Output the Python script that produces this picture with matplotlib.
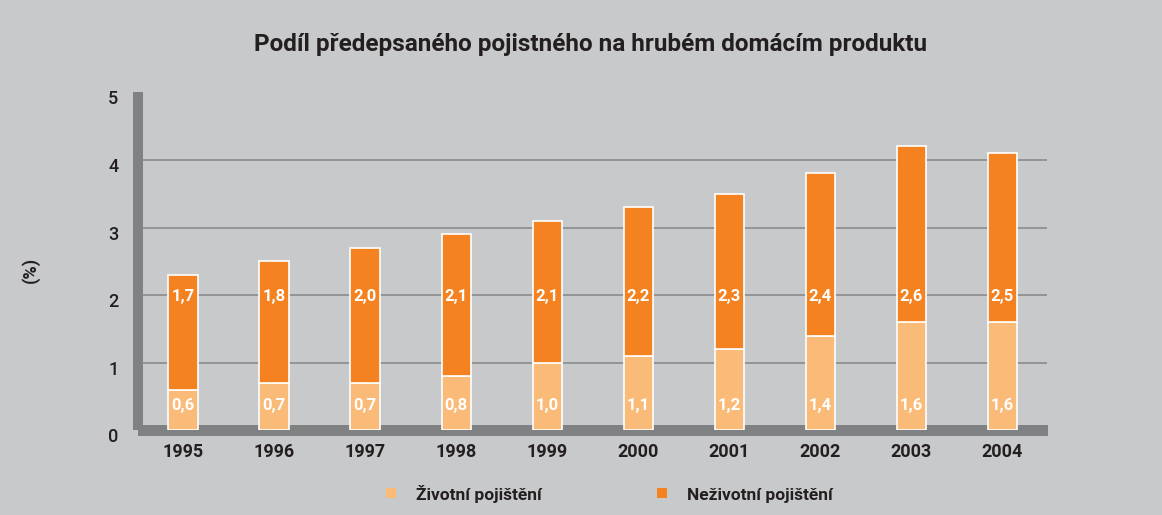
import matplotlib
matplotlib.use("Agg")
import matplotlib.pyplot as plt
import matplotlib.transforms as mtransforms
from matplotlib.patches import Rectangle
import numpy as np

plt.rcParams['font.family'] = ['Roboto', 'DejaVu Sans']

years = ["1995", "1996", "1997", "1998", "1999", "2000", "2001", "2002", "2003", "2004"]
life = [0.6, 0.7, 0.7, 0.8, 1.0, 1.1, 1.2, 1.4, 1.6, 1.6]
nonlife = [1.7, 1.8, 2.0, 2.1, 2.1, 2.2, 2.3, 2.4, 2.6, 2.5]
series_names = ["Životní pojištění", "Neživotní pojištění"]
title = "Podíl předepsaného pojistného na hrubém domácím produktu"
ylabel = "(%)"
yticks = [0, 1, 2, 3, 4, 5]

BG = "#c8c9cb"
C_LIFE = "#fbbb78"
C_NON = "#f58220"
GRID = "#8a8b8d"
AXBAR = "#808183"
TXT = "#231f20"

W, H = 1162, 515
fig = plt.figure(figsize=(W / 100, H / 100), dpi=100, facecolor=BG)
ax = fig.add_axes([142 / W, 1 - 430.3 / H, 905 / W, (430.3 - 92.3) / H])
ax.set_facecolor("none")

x = np.arange(len(years))
bw = 0.32
ax.bar(x, life, width=bw, color=C_LIFE, edgecolor="white", linewidth=1.2, zorder=3)
ax.bar(x, nonlife, width=bw, bottom=life, color=C_NON, edgecolor="white", linewidth=1.2, zorder=3)

for xi, a, b in zip(x, life, nonlife):
    ax.text(xi, 0.37, f"{a:.1f}".replace(".", ","), ha="center", va="center",
            color="white", fontsize=12, fontweight="bold", zorder=4)
    ax.text(xi, 1.98, f"{b:.1f}".replace(".", ","), ha="center", va="center",
            color="white", fontsize=12, fontweight="bold", zorder=4)

ax.set_xlim(-0.45, 9.49)
ax.set_ylim(0, 5)
ax.set_yticks(yticks)
ax.set_yticklabels([str(t) for t in yticks])
ax.set_xticks(x)
ax.set_xticklabels(years)
for t in [1, 2, 3, 4]:
    ax.axhline(t, color=GRID, linewidth=1.2, zorder=1)

for s in ax.spines.values():
    s.set_visible(False)
ax.tick_params(axis="both", length=0, colors=TXT, labelsize=13)
ax.tick_params(axis="y", pad=17)
ax.tick_params(axis="x", pad=9)
off = mtransforms.ScaledTranslation(0, -5 / 100, fig.dpi_scale_trans)
for lab in ax.get_yticklabels():
    lab.set_fontweight("medium")
    lab.set_transform(lab.get_transform() + off)
for lab in ax.get_xticklabels():
    lab.set_fontweight("bold")

aw, ah = 905, 338
# thick vertical axis bar
ax.add_patch(Rectangle((-9 / aw, 0), 10 / aw, 1.0, transform=ax.transAxes,
                       facecolor=AXBAR, edgecolor="none", clip_on=False, zorder=0.5))
# thick horizontal axis bar
ax.add_patch(Rectangle((-4 / aw, -6 / ah), 910 / aw, 11 / ah, transform=ax.transAxes,
                       facecolor=AXBAR, edgecolor="none", clip_on=False, zorder=0.5))

fig.text(30 / W, 1 - 270 / H, ylabel, rotation=90, ha="center", va="center",
         fontsize=13, fontweight="bold", color=TXT)
fig.text(591 / W, 1 - 51 / H, title, ha="center", va="baseline",
         fontsize=17.5, fontweight="bold", color=TXT)

# legend (manual placement)
leg_items = [(386, C_LIFE, series_names[0]), (657, C_NON, series_names[1])]
for px, col, name in leg_items:
    fig.patches.append(Rectangle((px / W, 1 - 498 / H), 10 / W, 10 / H,
                                 transform=fig.transFigure, facecolor=col, edgecolor="none"))
    fig.text((px + 30) / W, 1 - 500 / H, name, ha="left", va="baseline",
             fontsize=12.5, fontweight="bold", color=TXT)

fig.savefig("out.png", dpi=100, facecolor=BG)
